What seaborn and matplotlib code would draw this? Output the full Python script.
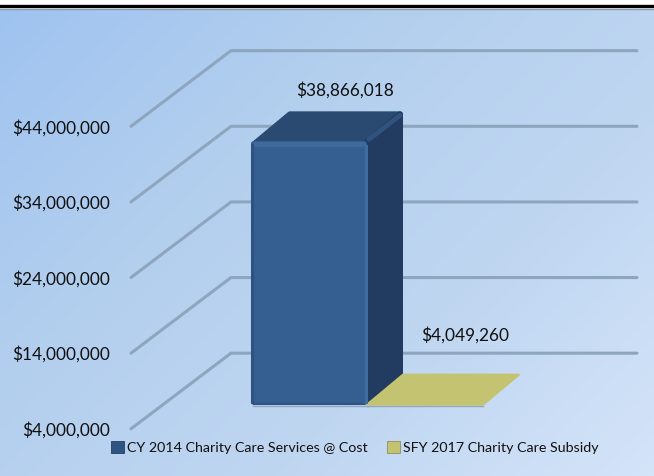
import numpy as np
import pandas as pd
import matplotlib
matplotlib.use("Agg")
import matplotlib.pyplot as plt
from matplotlib.patches import Patch
from matplotlib.colors import LinearSegmentedColormap
import seaborn as sns

categories = ["CY 2014 Charity Care Services @ Cost", "SFY 2017 Charity Care Subsidy"]
values = [38866018, 4049260]
value_labels = ["$38,866,018", "$4,049,260"]
tick_values = [4000000, 14000000, 24000000, 34000000, 44000000]
tick_labels = ["$4,000,000", "$14,000,000", "$24,000,000", "$34,000,000", "$44,000,000"]

W, H = 654, 476
FONT = "Lato"
plt.rcParams["font.family"] = [FONT, "DejaVu Sans"]
fig = plt.figure(figsize=(W / 100, H / 100), dpi=100, facecolor="white")

# background gradient panel below the double rule
bg = fig.add_axes([0, 0, 1, (H - 9) / H], zorder=0)
bx, by = np.meshgrid(np.linspace(0, 1, 200), np.linspace(0, 1, 200))
t = 0.58 * bx + 0.42 * by
cmap = LinearSegmentedColormap.from_list("bg", ["#9fc3f0", "#b3cfee", "#bfd6f1", "#d4e4f9"])
bg.imshow(t, cmap=cmap, aspect="auto", extent=[0, 1, 0, 1], origin="upper", vmin=0, vmax=1)
bg.axis("off")
fig.add_artist(plt.Line2D([0, 1], [1 - 6 / H] * 2, color="black", lw=2.4))
fig.add_artist(plt.Line2D([0, 1], [1 - 8.6 / H] * 2, color="#8d9aa8", lw=1.0))

# chart axes: x in category units, y in dollars
LEFT = 126
ax = fig.add_axes([LEFT / W, 0, (W - LEFT) / W, 1], zorder=1)
ax.patch.set_alpha(0)
K = 302.5 / 40e6        # px per dollar
UNIT = 116              # px per category
CX0 = 309
BASE_PX = 428.8
BAR_FRONT = (BASE_PX - 405) / K
BAR_DX, BAR_DY = 36 / UNIT, 30 / K
px = 1 / UNIT
py = 1 / K

df = pd.DataFrame({"category": categories, "value": values})
df["height"] = df["value"] - tick_values[0]
sns.barplot(data=df, x="category", y="height", hue="category", palette=["#365f91", "#c3c372"],
            width=1.0, bottom=tick_values[0] + BAR_FRONT, dodge=False, legend=False,
            ax=ax, zorder=3, linewidth=0, saturation=1)

ax.set_xlim((LEFT - CX0) / UNIT, (W - CX0) / UNIT)
ax.set_ylim(tick_values[0] - (H - BASE_PX) / K, tick_values[0] + BASE_PX / K)

# gridlines: floor/wall projection
step = tick_values[1] - tick_values[0]
x_front, x_back, x_end = (131 - CX0) / UNIT, (231 - CX0) / UNIT, (637 - CX0) / UNIT
for v in tick_values:
    ax.plot([x_front, x_back, x_end], [v, v + step, v + step], color="#8ea5be", lw=2.2,
            solid_joinstyle="miter", solid_capstyle="round", zorder=1)

ax.set_yticks(tick_values)
ax.set_yticklabels(tick_labels, fontsize=12.4, color="#111111")
ax.tick_params(axis="y", length=0, pad=(LEFT - 110) * 0.72)
ax.set_xticks([])
ax.set_xlabel("")
ax.set_ylabel("")
sns.despine(ax=ax, left=True, bottom=True)

# 3-D faces derived from the seaborn bars
bars = list(ax.patches)
blue, gold = bars
def geom(p):
    return p.get_x(), p.get_x() + p.get_width(), p.get_y(), p.get_y() + p.get_height()

l, r, b, t_ = geom(blue)
# round the front face corners by a same-colour stroke on an inset rectangle
blue.set_x(l + 3 * px)
blue.set_width(r - l - 6 * px)
blue.set_y(b + 3 * py)
blue.set_height(t_ - b - 6 * py)
blue.set_edgecolor("#365f91")
blue.set_linewidth(6 * 0.72)
blue.set_joinstyle("round")

ins = 3
ax.fill([r - ins * px, r - ins * px, r + BAR_DX - ins * px, r + BAR_DX - ins * px],
        [b + ins * py, t_ - ins * py, t_ + BAR_DY - ins * py, b + BAR_DY], color="#213c60",
        lw=6 * 0.72, joinstyle="round", zorder=2.9)
ax.fill([l + ins * px, l + BAR_DX + ins * px, r + BAR_DX - ins * px, r],
        [t_ - ins * py, t_ + BAR_DY - ins * py, t_ + BAR_DY - ins * py, t_ - ins * py], color="#2b4a71",
        lw=6 * 0.72, joinstyle="round", zorder=2.8)
# bevels
ax.plot([l + 4 * px, r - 4 * px], [t_ - 3 * py] * 2, color="#426d9c", lw=3.4, zorder=4, solid_capstyle="round", alpha=0.9)
ax.plot([r + 2 * px, r + BAR_DX - 3 * px], [t_ + 2 * py, t_ + BAR_DY - 4 * py], color="#30527f", lw=3.5, zorder=4,
        solid_capstyle="round")
ax.plot([l + 1.2 * px] * 2, [b + 3 * py, t_ - 4 * py], color="#2c507e", lw=2.2, zorder=4, alpha=0.8)
ax.plot([r - 1.5 * px] * 2, [b + 3 * py, t_ - 5 * py], color="#3f6ca1", lw=2.2, zorder=4)
ax.plot([l + 3 * px, r - 3 * px], [b + py, b + py], color="#2f5383", lw=1.5, zorder=4)
ax.plot([l + 2 * px, r + 2 * px], [b - 0.5 * py] * 2, color="#93a7bf", lw=1, zorder=2.5)

gl, gr, gb, gt = geom(gold)
ax.fill([gl, gl + BAR_DX, gr + BAR_DX, gr], [gt, gt + BAR_DY, gt + BAR_DY, gt], color="#c3c372", lw=1.5,
        edgecolor="#c3c372", joinstyle="round", zorder=3.5)
ax.plot([gl, gr], [gb - py, gb - py], color="#93a7bf", lw=1, zorder=2.5)

# value labels
offsets = [(36, 24), (40, 39)]
for p, text, (ox, oy) in zip([blue, gold], value_labels, offsets):
    x0, x1, y0, y1 = geom(p)
    ax.annotate(text, xy=((x0 + x1) / 2, y1 + BAR_DY), xytext=(ox * 0.72, oy * 0.72),
                textcoords="offset points", ha="center", va="center", fontsize=12.4,
                color="#111111", zorder=5)

handles = [Patch(facecolor="#2f5482", edgecolor="#233f63", lw=0.6),
           Patch(facecolor="#c3c372", edgecolor="#8f8f60", lw=0.6)]
fig.legend(handles, categories, loc="center", bbox_to_anchor=(355 / W, 1 - 447.5 / H), ncol=2,
           frameon=False, fontsize=10.3, handlelength=0.9, handleheight=0.9, handletextpad=0.2,
           columnspacing=1.35, labelcolor="#111111")

fig.savefig("out.png", dpi=100)
